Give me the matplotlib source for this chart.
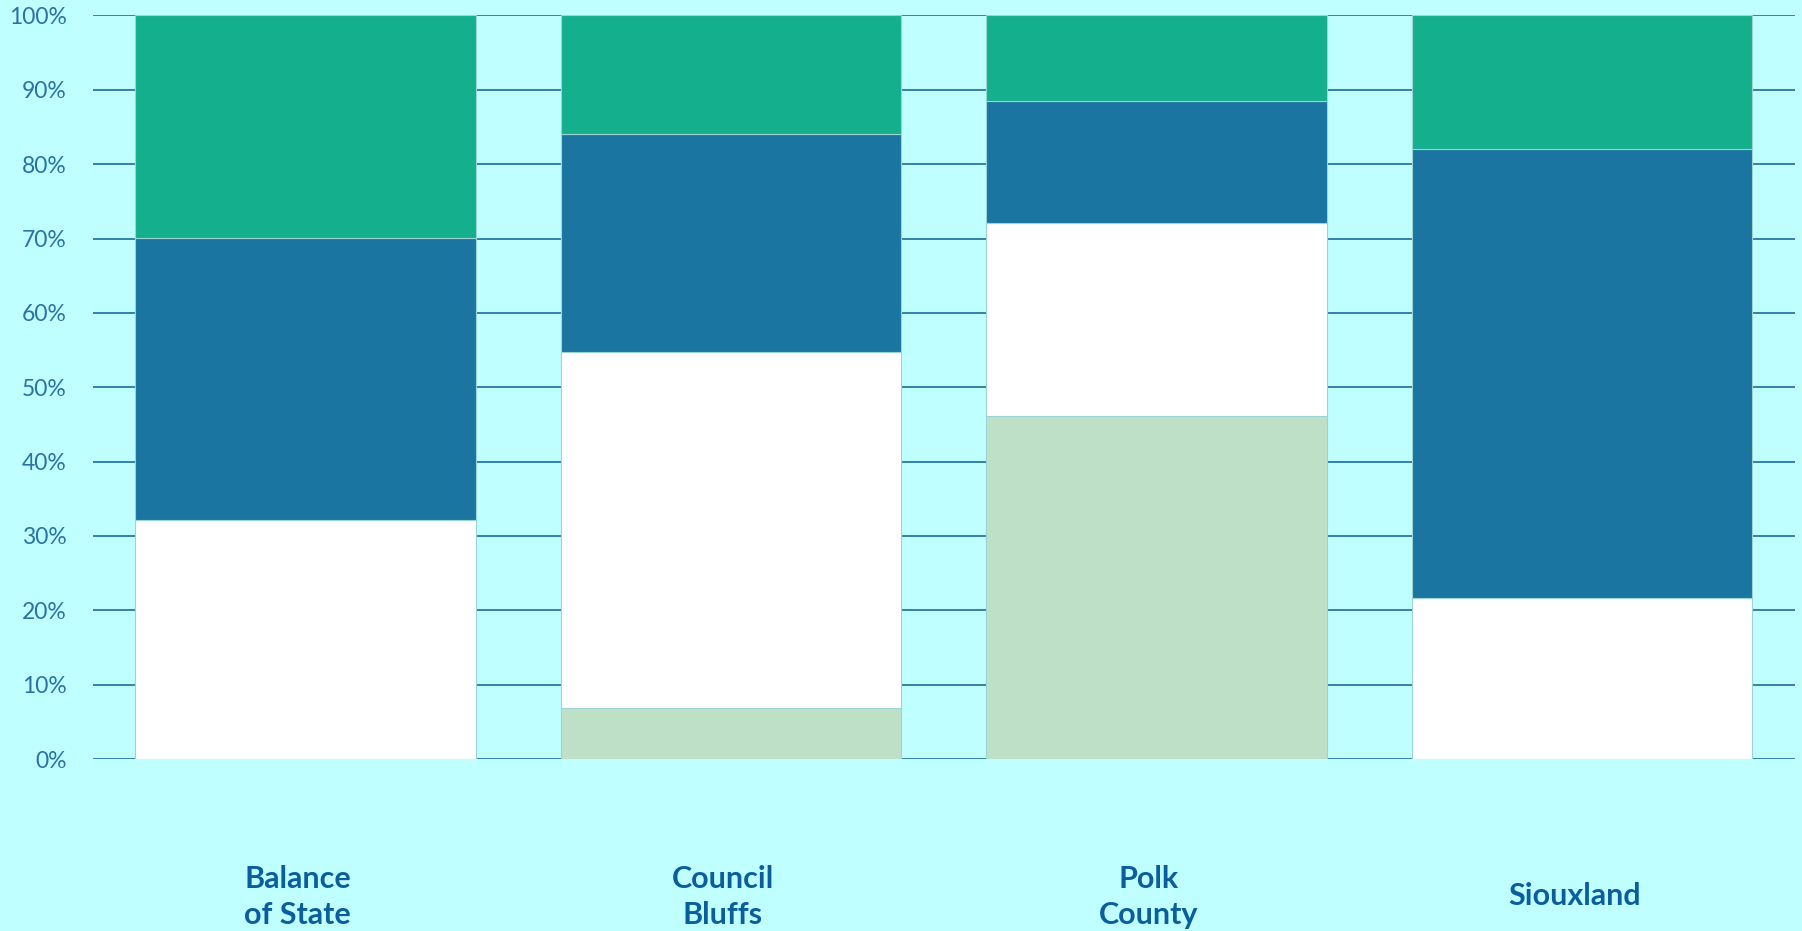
import matplotlib
matplotlib.use("Agg")
import matplotlib.pyplot as plt
import matplotlib.transforms as mtransforms
import numpy as np

# Data: share of each category (percent), stacked bottom to top
regions = ["Balance\nof State", "Council\nBluffs", "Polk\nCounty", "Siouxland"]
series_names = ["Segment A", "Segment B", "Segment C", "Segment D"]
seg_a = [0.0, 6.9, 46.1, 0.0]        # light green
seg_b = [32.1, 47.9, 26.0, 21.7]     # white
seg_c = [38.0, 29.2, 16.4, 60.4]     # dark blue
seg_d = [29.9, 16.0, 11.5, 17.9]     # teal green
yticks = [0, 10, 20, 30, 40, 50, 60, 70, 80, 90, 100]
ytick_labels = [f"{v}%" for v in yticks]

colors = ["#BEE0C7", "#FFFFFF", "#1A75A0", "#14AF8C"]
bg = "#BFFFFF"
grid_color = "#2A76A6"
tick_color = "#2A72A6"
label_color = "#0B5E9E"

plt.rcParams["font.family"] = ["Lato", "DejaVu Sans"]

fig = plt.figure(figsize=(18.02, 9.31), dpi=100, facecolor=bg)
ax = fig.add_axes([0.0514, 0.1847, 0.9447, 0.7987])
ax.set_facecolor(bg)

x = np.arange(len(regions))
bottom = np.zeros(len(regions))
for vals, col, name in zip([seg_a, seg_b, seg_c, seg_d], colors, series_names):
    vals = np.array(vals)
    ax.bar(x, vals, width=0.8, bottom=bottom, color=col, edgecolor="#9CD3D3",
           linewidth=0.8, label=name, zorder=2)
    bottom += vals

ax.set_xlim(-0.5, len(regions) - 0.5)
ax.set_ylim(0, 100)
ax.set_yticks(yticks)
ax.set_yticklabels(ytick_labels)
ax.yaxis.grid(True, color=grid_color, linewidth=1.3, zorder=0)
ax.set_axisbelow(True)
ax.tick_params(axis="y", length=0, pad=18.5, labelsize=16.5, labelcolor=tick_color)
ax.tick_params(axis="x", length=0, labelbottom=False)
for s in ax.spines.values():
    s.set_visible(False)

# Category labels under each bar, drawn line by line
offset = mtransforms.ScaledTranslation(-8 / 100, 0, fig.dpi_scale_trans)
trans = mtransforms.blended_transform_factory(ax.transData, fig.transFigure) + offset
for xi, name in zip(x, regions):
    lines = name.split("\n")
    if len(lines) == 2:
        ys = [1 - 888 / 931, 1 - 924 / 931]
    else:
        ys = [1 - 905 / 931]
    for line, yy in zip(lines, ys):
        ax.text(xi, yy, line, transform=trans, ha="center", va="baseline",
                fontsize=22, fontweight="bold", color=label_color)

fig.savefig("out.png", dpi=100, facecolor=bg)
